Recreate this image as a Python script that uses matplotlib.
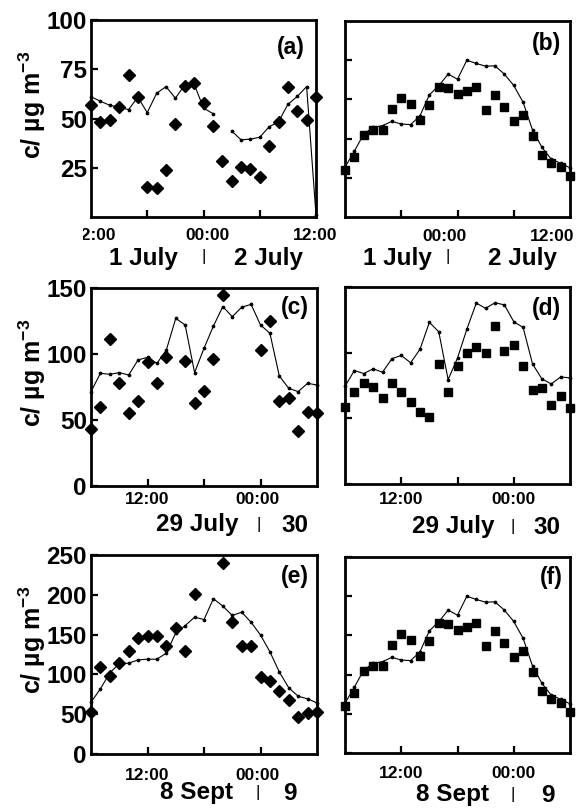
import numpy as np
import matplotlib
matplotlib.use("Agg")
import matplotlib.pyplot as plt
from matplotlib.transforms import Bbox, TransformedBbox

plt.rcParams['font.family'] = ['Liberation Sans', 'DejaVu Sans']
plt.rcParams['font.weight'] = 'bold'
plt.rcParams['mathtext.default'] = 'regular'

# ---------------- data (hourly values, 25 points per panel) ----------------
hours = np.arange(25)
nan = np.nan

# 1-2 July (panel a)
july1_obs = [57, 48, 49, 56, 72, 61, 15, 14.5, 24, 47, 66.7, 67.8, 58, 46,
             28.3, 18.3, 25.5, 24.5, 20.5, 36.2, 48.2, 65.8, 53.8, 49.2, 60.8]
july1_model = [61, 58.8, 56.7, 55.8, 54.5, 60.8, 53, 62.8, 66.2, 60.3, 67, 67.5,
               55.3, 52.5, nan, 43.7, 39.2, 39.5, 40.5, 45.8, 48.3, 57.2, 61.2,
               66.2, 1]

# 29-30 July (panels c, d)
july29_obs_c = [43.2, 60.1, 111.1, 78.3, 55, 64.1, 94.2, 78.3, 98, nan, 95,
                63.1, 72.2, 96, 145, nan, nan, nan, 103, 125.3, 64.1, 66.4,
                41.9, 56.3, 55.1]
july29_model_c = [71.5, 85.4, 84.6, 85.9, 84.1, 95.5, 97.5, 92.9, 103, 127, 122,
                  85.9, 104.3, 121.2, 135.9, 128.3, 135.4, 137.6, 122, 115.7,
                  83.3, 74, 71.5, 77.8, 76.5]
july29_obs_d = [59, 70, 76.9, 74.1, 65.4, 77.2, 70, 62.1, 54.9, 50.8, 91.5, 70.3,
                89.7, 99.5, 104.6, 99.5, 120, 101.5, 105.6, 89.7, 71.3, 73.3,
                60.3, 67.2, 57.7]
july29_model_d = [74.4, 86.4, 84.1, 87.7, 85.1, 95.4, 97.9, 92.3, 102.6, 123.1,
                  115.9, 79.5, 95.9, 117.9, 137.7, 133.8, 138, 136.4, 123.6,
                  119.2, 91.5, 80, 76.2, 81.5, 80.8]

# 8-9 Sept (panels e, f; panel b shows the same series as f)
sept8_obs_e = [52.4, 109.8, 98, 114, 130, 145.3, 148.6, 147.8, 135.1, 158.4, 130,
               201.4, nan, nan, 240.3, 165.5, 136, 136, 96.7, 91.6, 79, 67.6,
               46, 51.5, 52.4]
sept8_model_e = [65, 81.9, 102, 113.6, 114, 118.2, 119.1, 119.1, 126.7, 152,
                 161.3, 171.9, 168.9, 195.1, 185.8, 174, 178.2, 165.5, 149.5,
                 128.4, 103, 83.2, 72.6, 69.3, 64.2]
sept8_obs_f = [60.2, 76.3, 104.7, 111, 111, 137.3, 151.7, 143.6, 123.7, 142.4,
               165.2, 164.4, 156.8, 160.6, 165.2, 136.4, 155.5, 139.8, 122, 130,
               103, 78.8, 69, 63.6, 51.7]
sept8_model_f = [63.6, 83.9, 105.9, 114.4, 116.5, 122, 118.6, 117.8, 129.2,
                 155.9, 167.4, 182.2, 175.8, 200, 195.8, 192.4, 192.8, 182.2,
                 167.8, 146.2, 111, 89, 73.7, 68.6, 62.7]

# ---------------- layout ----------------
W, H = 582, 810
fig = plt.figure(figsize=(W / 100, H / 100), dpi=100)


def px(x, y):
    return x / W, 1 - y / H


def add_ax(l, t, r, b):
    return fig.add_axes([l / W, 1 - b / H, (r - l) / W, (b - t) / H])


panels = [
    dict(rect=(91, 20, 316, 217), obs=july1_obs, model=july1_model, mk='D',
         ymax=100, yticks=[25, 50, 75, 100], ylab=True, letter='(a)', lpos=(0.89, 0.86),
         xlabels=[("00:00", 207, 236), ("12:00", 315, 236)],
         dates=[("1 July", 143, 258), ("|", 204, 257), ("2 July", 268, 258)]),
    dict(rect=(345, 21, 570, 217), obs=sept8_obs_f, model=sept8_model_f, mk='s',
         ymax=250, yticks=[50, 100, 150, 200], ylab=False, letter='(b)', lpos=(0.895, 0.885),
         xlabels=[("00:00", 445, 237), ("12:00", 552, 237)],
         dates=[("1 July", 397, 258), ("|", 448, 257), ("2 July", 522, 258)]),
    dict(rect=(91, 288, 317, 486), obs=july29_obs_c, model=july29_model_c, mk='D',
         ymax=150, yticks=[0, 50, 100, 150], ylab=True, letter='(c)', lpos=(0.9, 0.9),
         xlabels=[("12:00", 147, 500), ("00:00", 258, 500)],
         dates=[("29 July", 197, 525), ("|", 259, 524), ("30", 295, 525)]),
    dict(rect=(345, 287, 570, 484), obs=july29_obs_d, model=july29_model_d, mk='s',
         ymax=150, yticks=[0, 50, 100, 150], ylab=False, letter='(d)', lpos=(0.895, 0.89),
         xlabels=[("12:00", 401, 499), ("00:00", 514, 499)],
         dates=[("29 July", 453, 527), ("|", 513, 526), ("30", 547, 527)]),
    dict(rect=(91, 555, 317, 754), obs=sept8_obs_e, model=sept8_model_e, mk='D',
         ymax=250, yticks=[0, 50, 100, 150, 200, 250], ylab=True, letter='(e)', lpos=(0.9, 0.89),
         xlabels=[("12:00", 147, 775), ("00:00", 258, 775)],
         dates=[("8 Sept", 197, 793), ("|", 258, 792), ("9", 290, 793)]),
    dict(rect=(345, 557, 570, 753), obs=sept8_obs_f, model=sept8_model_f, mk='s',
         ymax=250, yticks=[0, 50, 100, 150, 200, 250], ylab=False, letter='(f)', lpos=(0.915, 0.895),
         xlabels=[("12:00", 401, 773), ("00:00", 514, 773)],
         dates=[("8 Sept", 452, 795), ("|", 513, 794), ("9", 548, 795)]),
]

for p in panels:
    ax = add_ax(*p['rect'])
    ax.plot(hours, p['model'], color='black', lw=0.8, marker='o', ms=1.7,
            zorder=2, clip_on=False)
    if p['mk'] == 'D':
        ax.plot(hours, p['obs'], ls='none', marker='D', ms=5.8, color='black',
                zorder=3, clip_on=False)
    else:
        ax.plot(hours, p['obs'], ls='none', marker='s', ms=6.3, color='black',
                zorder=3, clip_on=False)
    ax.set_xlim(0, 24)
    ax.set_ylim(0, p['ymax'])
    ax.set_xticks([6, 12, 18])
    ax.set_xticklabels([])
    ax.set_yticks(p['yticks'])
    if p['ylab']:
        ax.set_yticklabels([str(v) for v in p['yticks']], fontsize=17.5, fontweight='bold')
    else:
        ax.set_yticklabels([])
    ax.tick_params(axis='both', direction='in', length=5, width=1.6, pad=3,
                   top=False, right=False)
    for s in ax.spines.values():
        s.set_linewidth(2)
    ax.text(p['lpos'][0], p['lpos'][1], p['letter'], transform=ax.transAxes,
            ha='center', va='center', fontsize=16.5, fontweight='bold')
    for t, x, y in p['xlabels']:
        fig.text(*px(x, y), t, ha='center', va='center', fontsize=12.5, fontweight='bold')
    for t, x, y in p['dates']:
        if t == '|':
            fig.text(*px(x, y), t, ha='center', va='center', fontsize=12,
                     fontweight='normal')
        else:
            fig.text(*px(x, y), t, ha='center', va='center', fontsize=17.5,
                     fontweight='bold')
    if p['ylab']:
        l, t_, r, b = p['rect']
        fig.text(*px(32, t_ + 85), "c/ µg m$^{-3}$", rotation=90, ha='center',
                 va='center', fontsize=18, fontweight='bold')

# clipped left-hand "12:00" label of panel (a)
clip = TransformedBbox(Bbox([[83 / W, 0], [1, 1]]), fig.transFigure)
tl = fig.text(*px(116, 236), "12:00", ha='right', va='center', fontsize=12.5,
              fontweight='bold')
tl.set_clip_box(clip)
tl.set_clip_on(True)

fig.savefig("out.png", dpi=100)
